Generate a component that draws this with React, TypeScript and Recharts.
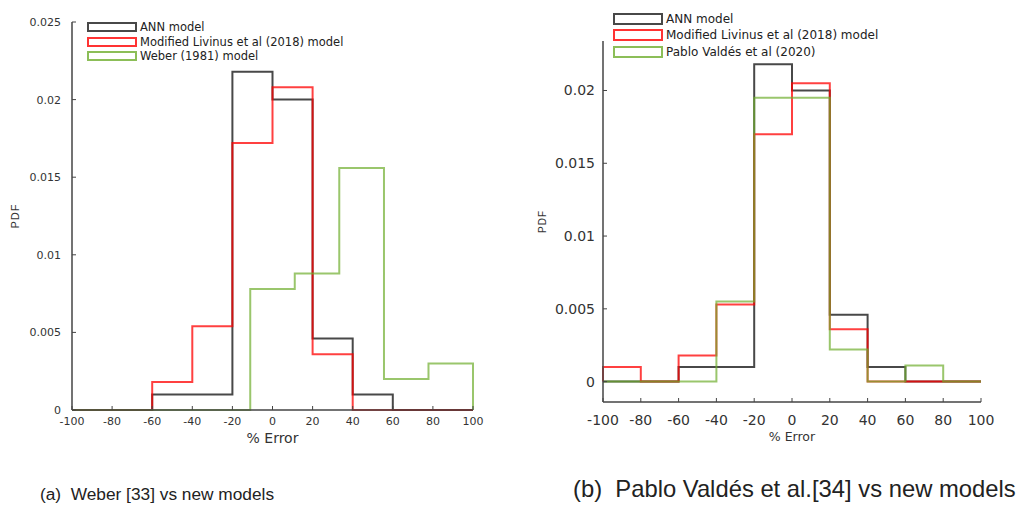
import { LineChart, Line, XAxis, YAxis, Legend, Label } from "recharts";

// histogram bin edges (% error)
const binEdges = [-100, -80, -60, -40, -20, 0, 20, 40, 60, 80, 100];
const weberEdges = [-100, -77.8, -55.6, -33.3, -11.1, 11.1, 33.3, 55.6, 77.8, 100];
const xTicks = [-100, -80, -60, -40, -20, 0, 20, 40, 60, 80, 100];

// (a) Weber vs new models
const annA = [0, 0, 0.001, 0.001, 0.0218, 0.02, 0.0046, 0.001, 0, 0];
const livinusA = [0, 0, 0.0018, 0.0054, 0.0172, 0.0208, 0.0036, 0, 0, 0];
const weberA = [0, 0, 0, 0, 0.0078, 0.0088, 0.0156, 0.002, 0.003];
const yTicksA = [0, 0.005, 0.01, 0.015, 0.02, 0.025];

// (b) Pablo Valdés vs new models
const annB = [0, 0, 0.001, 0.001, 0.0218, 0.02, 0.0046, 0.001, 0, 0];
const livinusB = [0.001, 0, 0.0018, 0.0053, 0.017, 0.0205, 0.0036, 0, 0, 0];
const valdesB = [0, 0, 0, 0.0055, 0.0195, 0.0195, 0.0022, 0, 0.0011, 0];
const yTicksB = [0, 0.005, 0.01, 0.015, 0.02];

const COLORS = {
  ann: "#1a1a1a",
  livinus: "#ff0000",
  green: "#6fae2e",
};

// stairs outline like matlab histogram 'DisplayStyle','stairs'
function toStairs(edges: number[], values: number[]) {
  const pts = [{ x: edges[0], y: 0 }];
  values.forEach((v, i) => pts.push({ x: edges[i], y: v }));
  pts.push({ x: edges[edges.length - 1], y: values[values.length - 1] });
  pts.push({ x: edges[edges.length - 1], y: 0 });
  return pts;
}

interface LegendItem {
  name: string;
  color: string;
}

function makeLegend(items: LegendItem[], rowH: number, boxH: number, fontSize: number) {
  return () => (
    <div>
      {items.map((it) => (
        <div
          key={it.name}
          style={{ display: "flex", alignItems: "center", height: rowH }}
        >
          <span
            style={{
              display: "inline-block",
              width: 50,
              height: boxH,
              boxSizing: "border-box",
              border: `2.5px solid ${it.color}`,
              opacity: 0.8,
            }}
          />
          <span
            style={{
              marginLeft: 3,
              fontFamily: "DejaVu Sans",
              fontSize,
              color: "#222",
              whiteSpace: "nowrap",
            }}
          >
            {it.name}
          </span>
        </div>
      ))}
    </div>
  );
}

const pdfLabel = (dx: number, fontSize: number) => (props: any) => {
  const vb = props.viewBox;
  const cx = vb.x + dx;
  const cy = vb.y + vb.height / 2;
  return (
    <text
      x={cx}
      y={cy}
      transform={`rotate(-90 ${cx} ${cy})`}
      textAnchor="middle"
      dominantBaseline="central"
      fontFamily="Liberation Sans"
      fontSize={fontSize}
      letterSpacing={1}
      fill="#333"
    >
      PDF
    </text>
  );
};

const axisStroke = { stroke: "#444", strokeWidth: 1.5 };

export default function App() {
  const tickA = { fill: "#333", fontSize: 11, fontFamily: "DejaVu Sans" };
  const tickB = { fill: "#333", fontSize: 14, fontFamily: "DejaVu Sans" };

  return (
    <div
      style={{
        position: "absolute",
        left: 0,
        top: 0,
        width: 1017,
        height: 506,
        background: "#fff",
        overflow: "hidden",
      }}
    >
      <div style={{ position: "absolute", left: 0, top: 0 }}>
        <LineChart width={520} height={470} margin={{ top: 22, right: 47, bottom: 0, left: 0 }}>
          <XAxis
            dataKey="x"
            type="number"
            domain={[-100, 100]}
            ticks={xTicks}
            interval={0}
            height={60}
            tickSize={-4}
            tickMargin={11}
            axisLine={axisStroke}
            tickLine={{ stroke: "#444" }}
            tick={tickA}
          >
            <Label
              value="% Error"
              position="insideTop"
              offset={23}
              style={{ fontFamily: "DejaVu Sans", fontSize: 14, fill: "#333" }}
            />
          </XAxis>
          <YAxis
            type="number"
            domain={[0, 0.025]}
            ticks={yTicksA}
            width={72}
            tickSize={-4}
            tickMargin={15}
            axisLine={axisStroke}
            tickLine={{ stroke: "#444" }}
            tick={tickA}
          >
            <Label content={pdfLabel(15, 11)} />
          </YAxis>
          <Legend
            layout="horizontal"
            verticalAlign="middle"
            align="center"
            wrapperStyle={{ top: 20, left: 87, width: 300 }}
            content={makeLegend(
              [
                { name: "ANN model", color: COLORS.ann },
                { name: "Modified Livinus et al (2018) model", color: COLORS.livinus },
                { name: "Weber (1981) model", color: COLORS.green },
              ],
              14.5,
              10,
              11.5
            )}
          />
          <Line data={toStairs(binEdges, annA)} dataKey="y" type="stepAfter" stroke={COLORS.ann} strokeOpacity={0.8} strokeWidth={2} dot={false} activeDot={false} isAnimationActive={false} />
          <Line data={toStairs(binEdges, livinusA)} dataKey="y" type="stepAfter" stroke={COLORS.livinus} strokeOpacity={0.75} strokeWidth={2} dot={false} activeDot={false} isAnimationActive={false} />
          <Line data={toStairs(weberEdges, weberA)} dataKey="y" type="stepAfter" stroke={COLORS.green} strokeOpacity={0.7} strokeWidth={2} dot={false} activeDot={false} isAnimationActive={false} />
        </LineChart>
      </div>

      <div style={{ position: "absolute", left: 520, top: 0 }}>
        <LineChart width={497} height={470} margin={{ top: 41, right: 36, bottom: 0, left: 0 }}>
          <XAxis
            dataKey="x"
            type="number"
            domain={[-100, 100]}
            ticks={xTicks}
            interval={0}
            height={68}
            tickSize={-4}
            tickMargin={17}
            axisLine={axisStroke}
            tickLine={{ stroke: "#444" }}
            tick={tickB}
          >
            <Label
              value="% Error"
              position="insideTop"
              offset={30}
              style={{ fontFamily: "DejaVu Sans", fontSize: 12.5, fill: "#333" }}
            />
          </XAxis>
          <YAxis
            type="number"
            domain={[-0.0014, 0.0234]}
            allowDataOverflow
            ticks={yTicksB}
            width={83}
            tickSize={-4}
            tickMargin={12}
            axisLine={axisStroke}
            tickLine={{ stroke: "#444" }}
            tick={tickB}
          >
            <Label content={pdfLabel(22, 10)} />
          </YAxis>
          <Legend
            layout="horizontal"
            verticalAlign="middle"
            align="center"
            wrapperStyle={{ top: 11, left: 93, width: 320 }}
            content={makeLegend(
              [
                { name: "ANN model", color: COLORS.ann },
                { name: "Modified Livinus et al (2018) model", color: COLORS.livinus },
                { name: "Pablo Valdés et al (2020)", color: COLORS.green },
              ],
              16.25,
              12,
              12
            )}
          />
          <Line data={toStairs(binEdges, annB)} dataKey="y" type="stepAfter" stroke={COLORS.ann} strokeOpacity={0.8} strokeWidth={2} dot={false} activeDot={false} isAnimationActive={false} />
          <Line data={toStairs(binEdges, livinusB)} dataKey="y" type="stepAfter" stroke={COLORS.livinus} strokeOpacity={0.75} strokeWidth={2} dot={false} activeDot={false} isAnimationActive={false} />
          <Line data={toStairs(binEdges, valdesB)} dataKey="y" type="stepAfter" stroke={COLORS.green} strokeOpacity={0.7} strokeWidth={2} dot={false} activeDot={false} isAnimationActive={false} />
        </LineChart>
      </div>

      <div
        style={{
          position: "absolute",
          left: 40,
          top: 486,
          fontFamily: "Liberation Sans",
          fontSize: 17.3,
          lineHeight: 1,
          color: "#222",
          whiteSpace: "pre",
        }}
      >
        {"(a)  Weber [33] vs new models"}
      </div>
      <div
        style={{
          position: "absolute",
          left: 573,
          top: 477,
          fontFamily: "Liberation Sans",
          fontSize: 23.8,
          lineHeight: 1,
          color: "#222",
          whiteSpace: "pre",
        }}
      >
        {"(b)  Pablo Valdés et al.[34] vs new models"}
      </div>
    </div>
  );
}
